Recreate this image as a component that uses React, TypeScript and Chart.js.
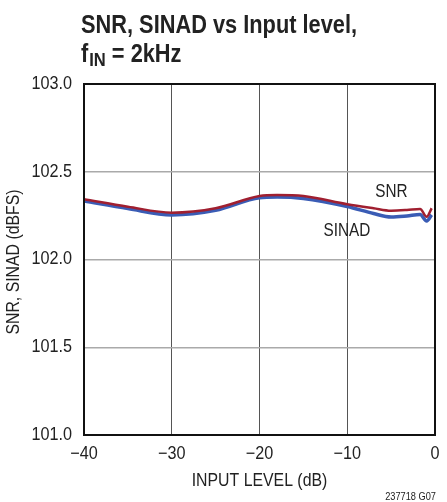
import React, { useEffect, useRef } from "react";
import { Chart, registerables } from "chart.js";

Chart.register(...registerables);

const FONT = '"Liberation Sans", Arial, sans-serif';
const SX = 0.87;

const inputLevels = [-40, -35, -30, -25, -20, -18, -15, -10, -7, -5, -3.2, -1.7, -0.95, -0.38];
const snrValues = [102.343, 102.301, 102.267, 102.292, 102.362, 102.368, 102.362, 102.315, 102.292, 102.278, 102.282, 102.288, 102.244, 102.292];
const sinadValues = [102.333, 102.29, 102.254, 102.28, 102.352, 102.356, 102.348, 102.302, 102.262, 102.242, 102.248, 102.256, 102.219, 102.254];

const xTicks = [-40, -30, -20, -10, 0];
const yTicks = [101.0, 101.5, 102.0, 102.5, 103.0];

const seriesLabels = [
  { text: "SNR", x: -4.96, y: 102.387 },
  { text: "SINAD", x: -10.03, y: 102.162 },
];

function narrow(ctx: any, text: string, x: number, y: number, font: string, align: string, baseline: string, sx = SX, rot = 0) {
  ctx.save();
  ctx.translate(x, y);
  if (rot) ctx.rotate(rot);
  ctx.scale(sx, 1);
  ctx.font = font;
  ctx.textAlign = align;
  ctx.textBaseline = baseline;
  ctx.fillText(text, 0, 0);
  ctx.restore();
}

const overlayPlugin = {
  id: "overlay",
  afterDatasetsDraw(chart: any) {
    const { ctx, chartArea, scales } = chart;
    ctx.save();
    ctx.strokeStyle = "#111";
    ctx.lineWidth = 2;
    ctx.strokeRect(chartArea.left, chartArea.top, chartArea.right - chartArea.left, chartArea.bottom - chartArea.top);
    ctx.fillStyle = "#222";
    for (const l of seriesLabels) {
      narrow(ctx, l.text, scales.x.getPixelForValue(l.x), scales.y.getPixelForValue(l.y), `18px ${FONT}`, "center", "middle", 0.85);
    }
    // tick labels
    for (const v of xTicks) {
      const label = v < 0 ? "\u2212" + Math.abs(v) : String(v);
      narrow(ctx, label, scales.x.getPixelForValue(v), 459, `18px ${FONT}`, "center", "alphabetic", 0.9);
    }
    for (const v of yTicks) {
      narrow(ctx, v.toFixed(1), 72, scales.y.getPixelForValue(v), `18px ${FONT}`, "right", "middle", 0.9);
    }
    // axis titles
    narrow(ctx, "INPUT LEVEL (dB)", (chartArea.left + chartArea.right) / 2, 486, `18px ${FONT}`, "center", "alphabetic", 0.88);
    narrow(ctx, "SNR, SINAD (dBFS)", 19, 262, `18px ${FONT}`, "center", "alphabetic", 0.88, -Math.PI / 2);
    ctx.restore();
  },
  afterDraw(chart: any) {
    const { ctx } = chart;
    ctx.save();
    ctx.fillStyle = "#222";
    const line1 = "SNR, SINAD vs Input level,";
    ctx.font = `bold 25px ${FONT}`;
    const w1 = ctx.measureText(line1).width;
    const tsx = 276 / w1;
    narrow(ctx, line1, 81, 33, `bold 25px ${FONT}`, "left", "alphabetic", tsx);
    let x = 81;
    narrow(ctx, "f", x, 62, `bold 25px ${FONT}`, "left", "alphabetic", tsx);
    ctx.font = `bold 25px ${FONT}`;
    x += ctx.measureText("f").width * tsx + 1;
    narrow(ctx, "IN", x, 66, `bold 19px ${FONT}`, "left", "alphabetic", tsx);
    ctx.font = `bold 19px ${FONT}`;
    x += ctx.measureText("IN").width * tsx;
    narrow(ctx, " = 2kHz", x, 62, `bold 25px ${FONT}`, "left", "alphabetic", tsx);
    narrow(ctx, "237718 G07", 436, 497, `11px ${FONT}`, "right", "middle", 0.84);
    ctx.restore();
  },
};

export default function App() {
  const canvasRef = useRef<HTMLCanvasElement>(null);

  useEffect(() => {
    if (!canvasRef.current) return;
    const chart = new Chart(canvasRef.current, {
      type: "line",
      data: {
        datasets: [
          {
            label: "SNR",
            data: inputLevels.map((x, i) => ({ x, y: snrValues[i] })),
            borderColor: "#a01f30",
            borderWidth: 2.5,
            pointRadius: 0,
            cubicInterpolationMode: "monotone",
            fill: false,
            order: 0,
          },
          {
            label: "SINAD",
            data: inputLevels.map((x, i) => ({ x, y: sinadValues[i] })),
            borderColor: "#3a5cb5",
            borderWidth: 3.5,
            pointRadius: 0,
            cubicInterpolationMode: "monotone",
            fill: false,
            order: 1,
          },
        ],
      },
      options: {
        animation: false,
        responsive: false,
        maintainAspectRatio: false,
        devicePixelRatio: 1,
        layout: { padding: { left: 0, top: 84, right: 12, bottom: 0 } },
        plugins: {
          legend: { display: false },
          tooltip: { enabled: false },
          title: { display: false },
        },
        scales: {
          x: {
            type: "linear",
            min: -40,
            max: 0,
            afterFit(scale: any) {
              scale.height = 67;
            },
            afterBuildTicks(scale: any) {
              scale.ticks = xTicks.map((v) => ({ value: v }));
            },
            ticks: { display: false },
            grid: { color: "#555", lineWidth: 1, drawTicks: false },
            border: { display: false },
            title: { display: false },
          },
          y: {
            type: "linear",
            min: 101,
            max: 103,
            afterFit(scale: any) {
              scale.width = 84;
            },
            afterBuildTicks(scale: any) {
              scale.ticks = yTicks.map((v) => ({ value: v }));
            },
            ticks: { display: false },
            grid: { color: "#aaa", lineWidth: 1.5, drawTicks: false },
            border: { display: false },
            title: { display: false },
          },
        },
      },
      plugins: [overlayPlugin],
    } as any);
    return () => chart.destroy();
  }, []);

  return (
    <div style={{ position: "fixed", left: 0, top: 0, width: 447, height: 502, background: "#fff" }}>
      <canvas ref={canvasRef} width={447} height={502} style={{ width: 447, height: 502, display: "block" }} />
    </div>
  );
}
